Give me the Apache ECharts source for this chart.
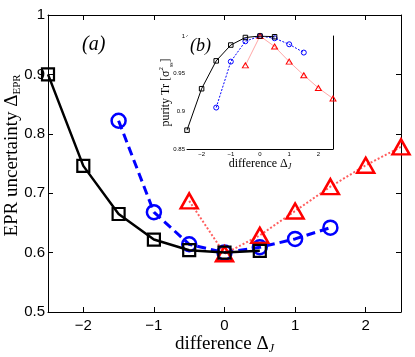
<!DOCTYPE html>
<html>
<head>
<meta charset="utf-8">
<script src="https://cdn.jsdelivr.net/npm/echarts@6/dist/echarts.min.js"></script>
<style>
  html, body { margin: 0; padding: 0; background: #fff; }
  #chart { width: 415px; height: 357px; }
</style>
</head>
<body>
<div id="chart"></div>
<script>
// 主图数据 (a)
var blackX = [-2.5, -2, -1.5, -1, -0.5, 0, 0.5];
var blackY = [0.900, 0.746, 0.665, 0.622, 0.604, 0.600, 0.603];
var blueX = [-1.5, -1, -0.5, 0, 0.5, 1, 1.5];
var blueY = [0.822, 0.668, 0.614, 0.600, 0.609, 0.623, 0.642];
var redX = [-0.5, 0, 0.5, 1, 1.5, 2, 2.5];
var redY = [0.687, 0.598, 0.629, 0.670, 0.711, 0.747, 0.778];
// 插图数据 (b)
var insetBlackY = [0.875, 0.930, 0.967, 0.988, 0.998, 1.000, 0.999];
var insetBlueY = [0.905, 0.966, 0.993, 1.000, 0.997, 0.989, 0.978];
var insetRedY = [0.961, 1.000, 0.986, 0.966, 0.948, 0.931, 0.917];
var yTicksMain = [0.5, 0.6, 0.7, 0.8, 0.9, 1];
var yTicksInset = [0.85, 0.9, 0.95, 1];

function pairs(xs, ys) {
  return xs.map(function (x, i) { return [x, ys[i]]; });
}
function xLabel(v) {
  if (Math.abs(v - Math.round(v)) > 1e-6) return '';
  return String(Math.round(v)).replace('-', '\u2212');
}
function yLabel(ticks) {
  return function (v) {
    for (var i = 0; i < ticks.length; i++) {
      if (Math.abs(ticks[i] - v) < 1e-6) return String(ticks[i]);
    }
    return '';
  };
}

var serif = 'Liberation Serif';
var sans = 'Liberation Sans';

function axisX(grid, top, main) {
  return {
    type: 'value', gridIndex: grid, position: top ? 'top' : 'bottom',
    min: -2.5, max: 2.5, splitNumber: 5, nameMoveOverlap: false,
    axisLine: { show: true, onZero: false, lineStyle: { color: '#000', width: 1 } },
    axisTick: { show: true, inside: true, length: main ? 5 : 3, lineStyle: { color: '#000' } },
    splitLine: { show: false },
    axisLabel: {
      show: !top, formatter: xLabel, color: '#000', fontFamily: sans,
      fontSize: main ? 15 : 6, margin: main ? 6 : 2
    }
  };
}
function axisY(grid, right, main) {
  var ticks = main ? yTicksMain : yTicksInset;
  return {
    type: 'value', gridIndex: grid, position: right ? 'right' : 'left',
    min: ticks[0], max: 1, interval: main ? 0.1 : 0.05, nameMoveOverlap: false,
    axisLine: { show: true, onZero: false, lineStyle: { color: '#000', width: 1 } },
    axisTick: { show: true, inside: true, length: main ? 5 : 3, lineStyle: { color: '#000' } },
    splitLine: { show: false },
    axisLabel: {
      show: !right, formatter: yLabel(ticks), color: '#000', fontFamily: sans,
      fontSize: main ? 15 : 6, margin: main ? 3 : 2
    }
  };
}

var xAxes = [axisX(0, false, true), axisX(0, true, true), axisX(1, false, false), axisX(1, true, false)];
var yAxes = [axisY(0, false, true), axisY(0, true, true), axisY(1, false, false), axisY(1, true, false)];

// 坐标轴名称
xAxes[0].name = 'difference \u0394{sub|J}';
xAxes[0].nameLocation = 'middle';
xAxes[0].nameGap = 21;
xAxes[0].nameTextStyle = { fontFamily: serif, fontSize: 19, color: '#000', lineHeight: 22,
  rich: { sub: { fontFamily: serif, fontStyle: 'italic', fontSize: 12, verticalAlign: 'bottom', lineHeight: 22 } } };
yAxes[0].name = 'EPR uncertainty \u0394{sub|EPR}';
yAxes[0].nameLocation = 'middle';
yAxes[0].nameGap = 25;
yAxes[0].nameTextStyle = { fontFamily: serif, fontSize: 19, color: '#000', lineHeight: 22, padding: [0, 0, 0, 16],
  rich: { sub: { fontFamily: serif, fontSize: 11, verticalAlign: 'bottom', lineHeight: 22 } } };
xAxes[2].name = 'difference \u0394{sub|J}';
xAxes[2].nameLocation = 'middle';
xAxes[2].nameGap = 8;
xAxes[2].nameTextStyle = { fontFamily: serif, fontSize: 12, color: '#000', lineHeight: 14,
  rich: { sub: { fontFamily: serif, fontStyle: 'italic', fontSize: 8, verticalAlign: 'bottom', lineHeight: 14 } } };
yAxes[2].name = 'purity Tr [\u03c3{sup|2}{sub|ss}]';
yAxes[2].nameLocation = 'middle';
yAxes[2].nameGap = 13;
yAxes[2].nameTextStyle = { fontFamily: serif, fontSize: 12, color: '#000', lineHeight: 16,
  rich: {
    sup: { fontFamily: serif, fontSize: 7, verticalAlign: 'top', lineHeight: 16 },
    sub: { fontFamily: serif, fontSize: 6, verticalAlign: 'bottom', lineHeight: 16 }
  } };

function line(data, xi, yi, opt) {
  return {
    type: 'line', xAxisIndex: xi, yAxisIndex: yi, data: data,
    symbol: opt.symbol, symbolSize: opt.size, z: opt.z || 2,
    lineStyle: { color: opt.lineColor || opt.color, width: opt.width, type: opt.type || 'solid' },
    itemStyle: { color: 'rgba(0,0,0,0)', borderColor: opt.color, borderWidth: opt.bw },
    emphasis: { disabled: true }, animation: false
  };
}

var series = [
  line(pairs(blueX, blueY), 0, 0, { symbol: 'circle', size: 14, color: '#0000ff', width: 3, type: [9, 5], bw: 2.5 }),
  line(pairs(redX, redY), 0, 0, { symbol: 'triangle', size: [17, 15], color: '#ff0000', lineColor: 'rgba(255,40,40,0.75)', width: 2, type: [2, 2], bw: 2.5 }),
  line(pairs(blackX, blackY), 0, 0, { symbol: 'rect', size: 12, color: '#000', width: 2.5, bw: 2.2, z: 3 }),
  line(pairs(blueX, insetBlueY), 2, 2, { symbol: 'circle', size: 5, color: '#0000ff', width: 1, type: [2, 1.5], bw: 1 }),
  line(pairs(redX, insetRedY), 2, 2, { symbol: 'triangle', size: [6, 5], color: '#ff0000', lineColor: 'rgba(255,80,80,0.5)', width: 1, bw: 1 }),
  line(pairs(blackX, insetBlackY), 2, 2, { symbol: 'rect', size: 4.5, color: '#000', width: 1, bw: 1, z: 3 })
];

var chart = echarts.init(document.getElementById('chart'), null, { renderer: 'canvas' });
chart.setOption({
  backgroundColor: '#fff',
  animation: false,
  grid: [
    { left: 48, top: 15, width: 353, height: 297, containLabel: false, outerBoundsMode: 'none' },
    { left: 187, top: 36, width: 146, height: 113, containLabel: false, outerBoundsMode: 'none',
      show: true, backgroundColor: '#fff', borderWidth: 0, z: 5 }
  ],
  xAxis: xAxes,
  yAxis: yAxes,
  series: series.map(function (s, i) { if (i > 2) { s.z = (s.z || 2) + 10; } return s; }),
  graphic: [
    { type: 'text', left: 82, top: 35, style: { text: '(a)', font: 'italic 20px "Liberation Serif"', fill: '#000' } },
    { type: 'text', left: 190, top: 37, z: 50, style: { text: '(b)', font: 'italic 18px "Liberation Serif"', fill: '#000' } }
  ]
});
</script>
</body>
</html>
